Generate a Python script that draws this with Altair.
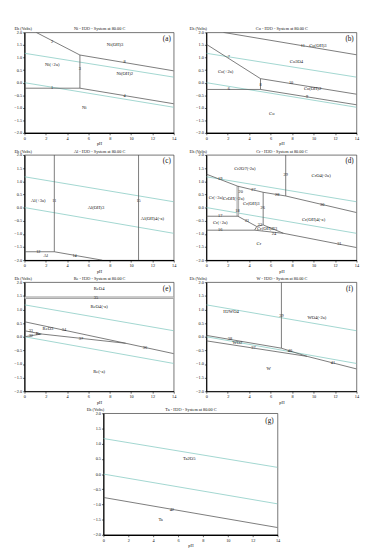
import altair as alt
import pandas as pd

FONT = "Liberation Serif"
PH_TICKS = [0, 2, 4, 6, 8, 10, 12, 14]
EH_TICKS = [-2.0, -1.5, -1.0, -0.5, 0.0, 0.5, 1.0, 1.5, 2.0]

# water stability lines (O2/H2O and H+/H2)
WATER = [[0, 1.17, 14, 0.22], [0, 0.0, 14, -0.98]]

# ---- Ni ----
NI_LINES = [[1.1, 2.0, 5.2, 1.10], [5.2, 1.10, 14, 0.47], [5.2, 1.10, 5.2, -0.22],
            [0, -0.22, 5.2, -0.22], [5.2, -0.22, 14, -0.84]]
NI_NUMS = [["2", 2.6, 1.62], ["8", 9.4, 0.82], ["3", 5.2, 0.55], ["1", 2.6, -0.22], ["4", 9.4, -0.52]]
NI_PHASES = [["Ni(OH)3", 8.5, 1.5], ["Ni(+2a)", 2.6, 0.7], ["Ni(OH)2", 9.4, 0.35], ["Ni", 5.6, -1.0]]

# ---- Co ----
CO_LINES = [[1.6, 2.0, 14, 1.11], [0, 1.53, 5.05, 0.16], [5.05, 0.16, 5.05, -0.27],
            [5.05, 0.16, 14, -0.46], [0, -0.27, 5.05, -0.27], [5.05, -0.27, 14, -0.88]]
CO_NUMS = [["11", 9.0, 1.47], ["7", 2.1, 1.02], ["8", 5.05, -0.08], ["10", 7.9, -0.03],
           ["6", 2.1, -0.27], ["9", 9.4, -0.56]]
CO_PHASES = [["Co(OH)3", 10.4, 1.47], ["Co3O4", 8.4, 0.84], ["Co(+2a)", 1.8, 0.44],
             ["Co(OH)2", 9.9, -0.27], ["Co", 6.1, -1.23]]

# ---- Al ----
AL_LINES = [[2.8, 2.0, 2.8, -1.68], [10.7, 2.0, 10.7, -2.0], [0, -1.68, 2.8, -1.68],
            [2.8, -1.68, 7.3, -2.0]]
AL_NUMS = [["11", 2.8, 0.25], ["15", 10.7, 0.25], ["12", 1.3, -1.68], ["14", 4.7, -1.84]]
AL_PHASES = [["Al(+3a)", 1.3, 0.25], ["Al(OH)3", 6.7, 0.0], ["Al(OH)4(-a)", 12.0, -0.42],
             ["Al", 2.0, -1.86]]

# ---- Cr ----
CR_LINES = [[0, 1.27, 2.94, 0.81], [2.94, 0.81, 5.3, 0.58], [5.3, 0.58, 7.4, 0.44],
            [7.4, 0.44, 14, -0.19], [7.4, 2.0, 7.4, 0.44], [5.3, 0.58, 5.3, -0.66],
            [0, -0.33, 2.94, -0.33], [2.94, -0.33, 4.7, -0.72], [0, -0.86, 4.5, -0.86],
            [4.7, -0.72, 5.3, -0.66], [4.5, -0.86, 4.7, -0.72], [5.3, -0.66, 7.2, -0.98],
            [4.5, -0.86, 7.2, -0.98], [7.2, -0.98, 14, -1.52]]
CR_THICK = [[2.94, 0.81, 2.94, -0.33]]
CR_NUMS = [["19", 1.3, 1.07], ["27", 4.4, 0.67], ["28", 6.6, 0.48], ["30", 10.8, 0.11],
           ["29", 7.4, 1.25], ["26", 5.25, -0.01], ["20", 3.2, 0.6], ["18", 2.9, -0.12],
           ["17", 1.3, -0.33], ["21", 3.8, -0.52], ["16", 1.3, -0.86], ["22", 5.0, -0.67],
           ["23", 6.4, -0.82], ["24", 6.3, -1.0], ["31", 12.4, -1.37]]
CR_PHASES = [["Cr2O7(-2a)", 3.6, 1.48], ["CrO4(-2a)", 10.7, 1.2], ["Cr(+3a)", 0.9, 0.38],
             ["CrOH(+2a)", 2.55, 0.32], ["Cr(OH)3", 4.2, 0.12], ["Cr(+2a)", 1.3, -0.58],
             ["Cr(OH)4(-a)", 10.0, -0.48], ["Cr(OH)2", 5.5, -0.82], ["Cr", 4.9, -1.4]]

# ---- Re ----
RE_LINES = [[0, 0.55, 9.5, -0.24], [9.5, -0.24, 14, -0.62], [0, 0.22, 1.6, 0.1],
            [0, 0.0, 1.6, 0.1], [1.6, 0.1, 9.5, -0.24]]
RE_THICK = [[0, 1.43, 14, 1.43]]
RE_NUMS = [["35", 6.7, 1.43], ["34", 3.7, 0.25], ["36", 11.3, -0.43], ["33", 0.6, 0.2],
           ["32", 0.6, 0.01], ["37", 5.3, -0.08]]
RE_PHASES = [["ReO4", 7.0, 1.74], ["ReO4(-a)", 7.0, 1.1], ["ReO3", 2.2, 0.3],
             ["Re", 1.3, 0.1], ["Re(-a)", 7.0, -1.28]]

# ---- W ----
W_LINES = [[7.0, 2.0, 7.0, -0.42], [0, 0.05, 7.0, -0.42], [7.0, -0.42, 9.4, -0.72],
           [0, -0.15, 9.4, -0.72], [9.4, -0.72, 14, -1.18]]
W_NUMS = [["39", 7.0, 0.75], ["38", 2.2, -0.1], ["40", 7.8, -0.53], ["37", 4.4, -0.42],
          ["41", 11.8, -0.97]]
W_PHASES = [["H2WO4", 2.3, 0.92], ["WO4(-2a)", 10.3, 0.67], ["WO2", 2.9, -0.22], ["W", 5.8, -1.2]]

# ---- Ta ----
TA_LINES = [[0, -0.77, 14, -1.76]]
TA_NUMS = [["42", 5.5, -1.17]]
TA_PHASES = [["Ta2O5", 6.9, 0.5], ["Ta", 4.6, -1.5]]


def seg_df(rows):
    return pd.DataFrame(rows, columns=["x", "y", "x2", "y2"])


def txt_df(rows):
    return pd.DataFrame(rows, columns=["t", "x", "y"])


def panel(title, tag, lines, nums, phases, w, h, title_x, thick=None):
    xs = alt.Scale(domain=[0, 14], nice=False)
    ys = alt.Scale(domain=[-2, 2], nice=False)
    xax = alt.Axis(values=PH_TICKS, title="pH", labelFlush=False)
    top_ax = alt.Axis(orient="top", labels=False, ticks=False, domain=False, title=title,
                      titleY=-2, titleBaseline="bottom", titlePadding=0)
    yax = alt.Axis(values=EH_TICKS, format=".1f", title="Eh (Volts)", titleAngle=0,
                   titleX=title_x, titleY=-2, titleAlign="left", titleBaseline="bottom")
    X = alt.X("x:Q", scale=xs, axis=xax)
    Xn = alt.X("x:Q", scale=xs, axis=None)
    Xt = alt.X("x:Q", scale=xs, axis=top_ax)
    Y = alt.Y("y:Q", scale=ys, axis=yax)
    layers = []
    layers.append(alt.Chart(seg_df(WATER)).mark_rule(color="#86cbc3", strokeWidth=0.8, clip=True)
                  .encode(x=X, y=Y, x2="x2:Q", y2="y2:Q"))
    if thick:
        layers.append(alt.Chart(seg_df(thick)).mark_rule(color="#9a9a9a", strokeWidth=2.6, clip=True)
                      .encode(x=Xn, y=Y, x2="x2:Q", y2="y2:Q"))
        layers.append(alt.Chart(seg_df(thick)).mark_rule(color="#d6d6d6", strokeWidth=1.2, clip=True)
                      .encode(x=Xn, y=Y, x2="x2:Q", y2="y2:Q"))
    layers.append(alt.Chart(seg_df(lines)).mark_rule(color="#555555", strokeWidth=0.8, clip=True)
                  .encode(x=Xn, y=Y, x2="x2:Q", y2="y2:Q"))
    layers.append(alt.Chart(txt_df(nums)).mark_text(font=FONT, fontSize=4.5, color="#222")
                  .encode(x=Xn, y=Y, text="t:N"))
    layers.append(alt.Chart(txt_df(phases)).mark_text(font=FONT, fontSize=4.8, color="#111")
                  .encode(x=Xn, y=Y, text="t:N"))
    layers.append(alt.Chart(txt_df([[tag, 13.35, 1.75]])).mark_text(font=FONT, fontSize=7.5, color="#111")
                  .encode(x=Xt, y=Y, text="t:N"))
    return alt.layer(*layers).resolve_axis(x="independent").properties(width=w, height=h)


a = panel("Ni - H2O - System at 80.00 C", "(a)", NI_LINES, NI_NUMS, NI_PHASES, 156, 105, -11)
b = panel("Co - H2O - System at 80.00 C", "(b)", CO_LINES, CO_NUMS, CO_PHASES, 157, 105, -18)
c = panel("Al - H2O - System at 80.00 C", "(c)", AL_LINES, AL_NUMS, AL_PHASES, 156, 110, -11)
d = panel("Cr - H2O - System at 80.00 C", "(d)", CR_LINES, CR_NUMS, CR_PHASES, 157, 110, -18, CR_THICK)
e = panel("Re - H2O - System at 80.00 C", "(e)", RE_LINES, RE_NUMS, RE_PHASES, 156, 114, -11, RE_THICK)
f = panel("W - H2O - System at 80.00 C", "(f)", W_LINES, W_NUMS, W_PHASES, 157, 114, -18)
g = panel("Ta - H2O - System at 80.00 C", "(g)", TA_LINES, TA_NUMS, TA_PHASES, 182, 127, -18)

chart = alt.vconcat(
    alt.hconcat(a, b, spacing=12),
    alt.hconcat(c, d, spacing=12),
    alt.hconcat(e, f, spacing=12),
    g,
    spacing=1,
    center=True,
).configure_view(stroke="#333333", strokeWidth=0.7).configure_axis(
    grid=False, domainColor="#000000", domainWidth=1.2, tickColor="#000000", tickSize=2,
    tickWidth=0.6, labelFont=FONT, labelFontSize=4.5, labelPadding=1, titleFont=FONT,
    titleFontSize=4.5, titleFontWeight="normal", titlePadding=1, labelColor="#111", titleColor="#111"
).configure_concat(spacing=1)

chart.save("out.html", embed_options={"renderer": "svg", "actions": False})
